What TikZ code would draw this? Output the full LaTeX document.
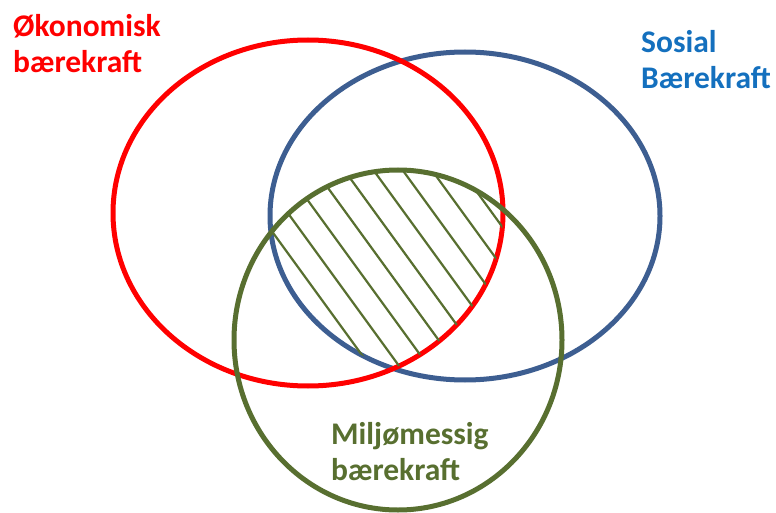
\documentclass[tikz,border=0pt]{standalone}
\usepackage{fontspec}
\setmainfont{Carlito}
\usepackage{tikz}
\usepackage{xcolor}
\usetikzlibrary{math}

\definecolor{okorod}{RGB}{255,0,0}
\definecolor{sosblaa}{RGB}{61,94,145}
\definecolor{sostekst}{RGB}{20,112,190}
\definecolor{miljogronn}{RGB}{88,111,48}

\begin{document}
\begin{tikzpicture}[x=1pt,y=-1pt]
        \useasboundingbox (0,0) rectangle (776,513);
        \tikzmath{ %三个椭圆的中心和半径
            coordinate \oko, \sos, \mil;
            \oko = (308,213);
            \sos = (465,216);
            \mil = (398,340);
            \k = 0;
        }
        \tikzset{
            ring/.style = {line width=5pt},
            hatchline/.style = {miljogronn, line width=2.2pt},
            etikett/.style = {font=\bfseries\fontsize{31.5}{36}\selectfont, align=left, inner sep=0pt}
        }
        \draw[ring, sosblaa] (\sos) ellipse [x radius=195, y radius=164];
        \draw[ring, okorod] (\oko) ellipse [x radius=195, y radius=173];
        \begin{scope} %三个椭圆的交集里画斜线
            \clip (\oko) ellipse [x radius=195, y radius=173];
            \clip (\sos) ellipse [x radius=195, y radius=164];
            \clip (\mil) ellipse [x radius=164, y radius=170];
            \foreach \k in {-2,...,9}{
                \draw[hatchline] ({212.8+29.2*\k},150) -- ++(200,275);
            }
        \end{scope}
        \draw[ring, miljogronn] (\mil) ellipse [x radius=164, y radius=170];
        \node[etikett, okorod, anchor=north west] (okonomisk) at (13,14) {Økonomisk\\bærekraft};
        \node[etikett, sostekst, anchor=north west] (sosial) at (641,30) {Sosial\\Bærekraft};
        \node[etikett, miljogronn, anchor=north west] (miljo) at (331,422) {Miljømessig\\bærekraft};
\end{tikzpicture}
\end{document}
